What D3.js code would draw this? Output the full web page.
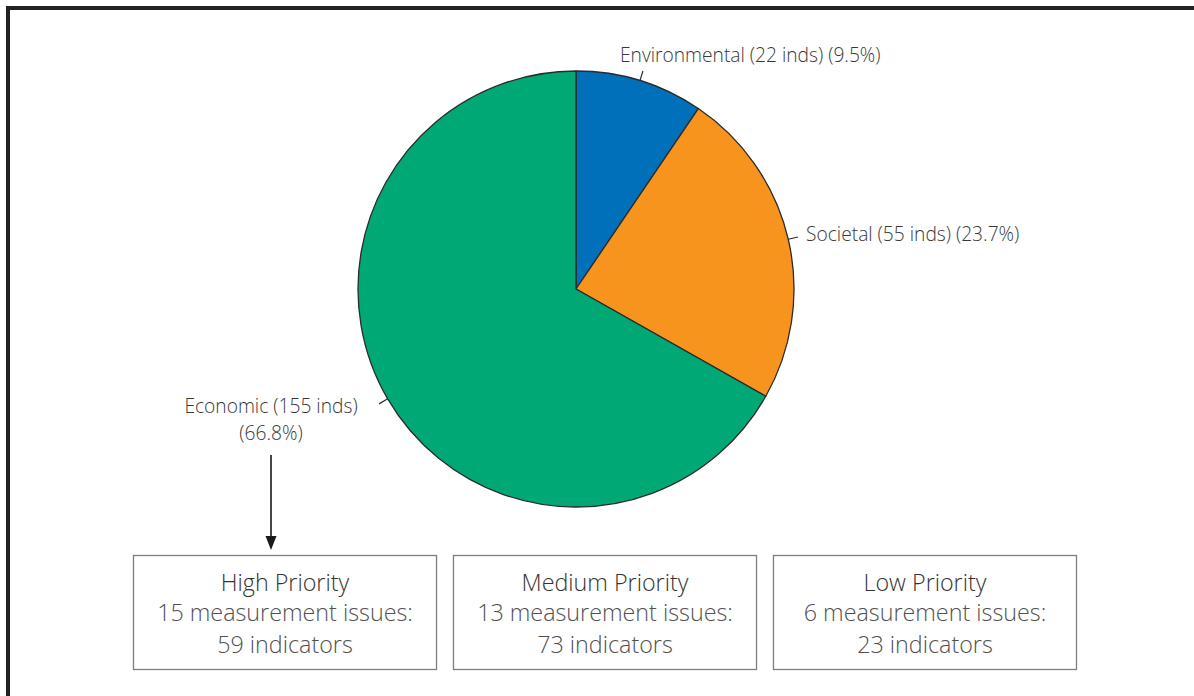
<!DOCTYPE html>
<html>
<head>
<meta charset="utf-8">
<script src="https://cdn.jsdelivr.net/npm/d3@7"></script>
<style>
  html, body { margin: 0; padding: 0; background: #fff; }
  svg { display: block; font-family: "Open Sans", "Noto Sans", sans-serif; font-weight: 300; }
</style>
</head>
<body>
<svg id="chart" width="1194" height="696"></svg>
<script>
// Indicator groups
const categories = ["Environmental", "Societal", "Economic"];
const indicatorCounts = [22, 55, 155];
const percentLabels = ["9.5%", "23.7%", "66.8%"];
const sliceColors = ["#0070BA", "#F7941D", "#00A875"];

// Priority breakdown of the economic indicators
const priorityLevels = ["High Priority", "Medium Priority", "Low Priority"];
const measurementIssues = [15, 13, 6];
const priorityIndicators = [59, 73, 23];

const svg = d3.select("#chart");

// outer frame
svg.append("rect")
  .attr("x", 8).attr("y", 8)
  .attr("width", 1200).attr("height", 700)
  .attr("fill", "none")
  .attr("stroke", "#222")
  .attr("stroke-width", 4);

const cx = 576, cy = 289, radius = 218;

const pie = d3.pie().sort(null).value(d => d.count);
const data = categories.map((c, i) => ({
  name: c, count: indicatorCounts[i], pct: percentLabels[i], color: sliceColors[i]
}));
const arcs = pie(data);
const arc = d3.arc().innerRadius(0).outerRadius(radius);

const g = svg.append("g").attr("transform", `translate(${cx},${cy})`);
g.selectAll("path.slice")
  .data(arcs)
  .join("path")
  .attr("class", "slice")
  .attr("d", arc)
  .attr("fill", d => d.data.color)
  .attr("stroke", "#2b2b2b")
  .attr("stroke-width", 1.3)
  .attr("stroke-linejoin", "round");

// short radial leader line at the middle of each slice
function polar(angle, r) {
  return [cx + r * Math.sin(angle), cy - r * Math.cos(angle)];
}
arcs.forEach(a => {
  const ang = (a.startAngle + a.endAngle) / 2;
  const p1 = polar(ang, radius), p2 = polar(ang, radius + 10);
  svg.append("line")
    .attr("x1", p1[0]).attr("y1", p1[1])
    .attr("x2", p2[0]).attr("y2", p2[1])
    .attr("stroke", "#2b2b2b").attr("stroke-width", 1.2);
});

const labelColor = "#383838";
const labelSize = 19.2;

// Environmental label
svg.append("text")
  .attr("x", 620).attr("y", 62)
  .attr("font-size", labelSize).attr("fill", labelColor)
  .text(`${categories[0]} (${indicatorCounts[0]} inds) (${percentLabels[0]})`);

// Societal label
svg.append("text")
  .attr("x", 806).attr("y", 241)
  .attr("font-size", labelSize).attr("fill", labelColor)
  .text(`${categories[1]} (${indicatorCounts[1]} inds) (${percentLabels[1]})`);

// Economic label (two lines)
const econ = svg.append("text")
  .attr("text-anchor", "middle")
  .attr("font-size", labelSize).attr("fill", labelColor);
econ.append("tspan").attr("x", 271).attr("y", 413)
  .text(`${categories[2]} (${indicatorCounts[2]} inds)`);
econ.append("tspan").attr("x", 271).attr("y", 440)
  .text(`(${percentLabels[2]})`);

// arrow pointing to the priority boxes
svg.append("line")
  .attr("x1", 271).attr("y1", 455)
  .attr("x2", 271).attr("y2", 538)
  .attr("stroke", "#1a1a1a").attr("stroke-width", 1.6);
svg.append("path")
  .attr("d", "M265.5,536 L276.5,536 L271,550 Z")
  .attr("fill", "#1a1a1a");

// priority boxes
const boxX = d3.scaleBand()
  .domain(priorityLevels)
  .range([133, 1076])
  .paddingInner(0.053)
  .paddingOuter(0);
const boxTop = 555, boxH = 114;
const bw = boxX.bandwidth();

const boxes = svg.selectAll("g.box")
  .data(priorityLevels.map((p, i) => ({
    level: p, issues: measurementIssues[i], inds: priorityIndicators[i]
  })))
  .join("g")
  .attr("class", "box")
  .attr("transform", d => `translate(${boxX(d.level)},${boxTop})`);

boxes.append("rect")
  .attr("x", 0.5).attr("y", 0.5)
  .attr("width", bw).attr("height", boxH)
  .attr("fill", "#fff")
  .attr("stroke", "#7f7f7f")
  .attr("stroke-width", 1.3);

const boxFont = 23.3;
boxes.append("text")
  .attr("x", bw / 2 + 0.5).attr("y", 36)
  .attr("text-anchor", "middle")
  .attr("font-size", boxFont).attr("fill", "#333")
  .text(d => d.level);
boxes.append("text")
  .attr("x", bw / 2 + 0.5).attr("y", 66)
  .attr("text-anchor", "middle")
  .attr("font-size", boxFont).attr("fill", "#505050")
  .text(d => `${d.issues} measurement issues:`);
boxes.append("text")
  .attr("x", bw / 2 + 0.5).attr("y", 98)
  .attr("text-anchor", "middle")
  .attr("font-size", boxFont).attr("fill", "#505050")
  .text(d => `${d.inds} indicators`);
</script>
</body>
</html>
